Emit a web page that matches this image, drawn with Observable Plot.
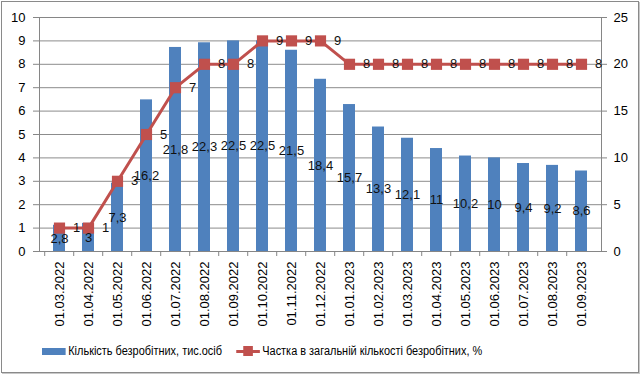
<!DOCTYPE html>
<html><head><meta charset="utf-8">
<script src="https://cdn.jsdelivr.net/npm/d3@7"></script>
<script src="https://cdn.jsdelivr.net/npm/@observablehq/plot@0.6"></script>
<style>
body{margin:0;background:#fff;width:640px;height:374px;position:relative;overflow:hidden}
#border{position:absolute;left:1px;top:1px;width:636px;height:370px;border:1px solid #8a8a8a;box-shadow:1px 1px 0 #c8c8c8}
#chart{position:absolute;left:0;top:0}
#legend{position:absolute;left:42px;top:344px;font:12.5px "Liberation Sans Narrow","Arial Narrow",Arial,sans-serif;display:flex;align-items:center;color:#000;white-space:nowrap;transform:scaleX(0.875);transform-origin:0 50%}
.sw1{display:inline-block;width:27px;height:7px;background:#4F81BD;margin-right:3px}
.sw2{position:relative;display:inline-block;width:27px;height:12px;margin-left:16px;margin-right:3px}
.sw2 .ln{position:absolute;left:0;top:5px;width:27px;height:3px;background:#C0504D}
.sw2 .sq{position:absolute;left:8px;top:1px;width:11px;height:10px;background:#C0504D}
</style></head>
<body>
<div id="border"></div>
<div id="chart"></div>
<div id="legend"><span class="sw1"></span><span>Кількість безробітних, тис.осіб</span><span class="sw2"><span class="ln"></span><span class="sq"></span></span><span>Частка в загальній кількості безробітних, %</span></div>
<script>
const dates = ["01.03.2022","01.04.2022","01.05.2022","01.06.2022","01.07.2022","01.08.2022","01.09.2022","01.10.2022","01.11.2022","01.12.2022","01.01.2023","01.02.2023","01.03.2023","01.04.2023","01.05.2023","01.06.2023","01.07.2023","01.08.2023","01.09.2023"];
const unemployed = [2.8,3,7.3,16.2,21.8,22.3,22.5,22.5,21.5,18.4,15.7,13.3,12.1,11,10.2,10,9.4,9.2,8.6];
const share = [1,1,3,5,7,8,8,9,9,9,8,8,8,8,8,8,8,8,8];
const leftTicks = [0,1,2,3,4,5,6,7,8,9,10];
const rightTicks = [0,5,10,15,20,25];

const RATIO = 2.5; // right-axis units per left-axis unit
const data = dates.map((d,i)=>({date:d, count:unemployed[i], share:share[i]}));
const fmt = v => String(v).replace(".", ",");
const W = 640, ML = 39, MR = 39;
const step = (W - ML - MR) / dates.length;

const chart = Plot.plot({
  width: W, height: 340,
  marginTop: 17, marginBottom: 89, marginLeft: ML, marginRight: MR,
  style: {fontFamily: "Arial, 'Liberation Sans', sans-serif", fontSize: "13px", color: "#000", background: "transparent"},
  x: {type: "band", domain: dates, paddingInner: 0.6, paddingOuter: 0.3, label: null},
  y: {domain: [0, 10], label: null},
  marks: [
    Plot.gridY(leftTicks, {stroke: "#8c8c8c", strokeOpacity: 1}),
    Plot.barY(data, {x: "date", y: d => d.count / RATIO, fill: "#4F81BD"}),
    Plot.frame({stroke: "#868686"}),
    Plot.axisY(leftTicks, {anchor: "left", tickSize: 6, tickPadding: 8, stroke: "#868686", fill: "#000", label: null}),
    Plot.axisY(rightTicks.map(v => v / RATIO), {anchor: "right", tickSize: 5, tickPadding: 7, tickFormat: d => d * RATIO, stroke: "#868686", fill: "#000", label: null}),
    Plot.axisX({tickSize: 0, tickRotate: -90, tickPadding: 10, fill: "#000", label: null}),
    Plot.axisX({tickSize: 5, text: null, dx: -step / 2, stroke: "#868686", label: null}),
    Plot.line(data, {x: "date", y: "share", stroke: "#C0504D", strokeWidth: 3}),
    Plot.dot(data, {x: "date", y: "share", symbol: "square", fill: "#C0504D", r: 6.3}),
    Plot.text(data, {x: "date", y: d => d.count / RATIO / 2, text: d => fmt(d.count), fill: "#111"}),
    Plot.text(data, {x: "date", y: "share", text: d => fmt(d.share), dx: 17, fill: "#111"})
  ]
});
document.getElementById("chart").appendChild(chart);
</script>
</body></html>
